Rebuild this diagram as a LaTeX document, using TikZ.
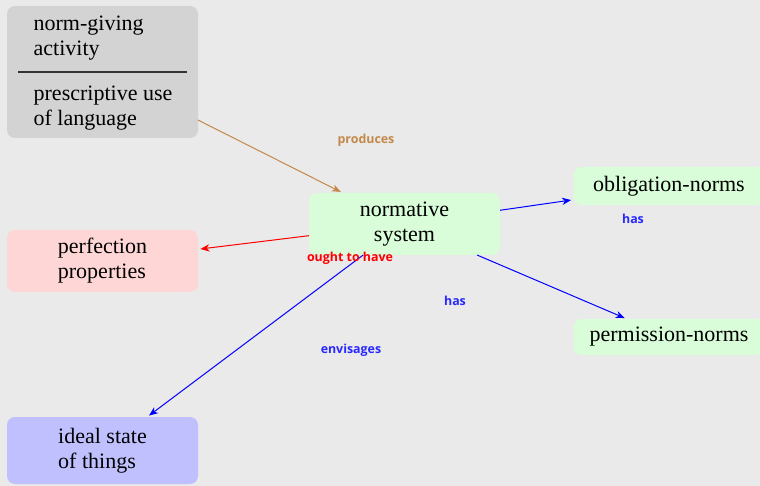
\documentclass[tikz,border=0pt]{standalone}
\usepackage{fontspec}
\setmainfont{Liberation Serif}
\newfontfamily\relfont{Open Sans}
\usetikzlibrary{arrows.meta}

\definecolor{bgcol}{RGB}{233,234,233}
\definecolor{srcgray}{RGB}{211,211,211}
\definecolor{normgreen}{RGB}{217,252,217}
\definecolor{perfpink}{RGB}{255,214,214}
\definecolor{idealblue}{RGB}{192,192,255}
\definecolor{prodbrown}{RGB}{196,136,74}
\definecolor{hasblue}{RGB}{40,40,255}

\tikzset{
  concept/.style={fill=#1, rounded corners=4pt, minimum width=95.5pt,
    align=left, inner sep=0pt, outer sep=0pt,
    font={\fontsize{11}{12.5}\selectfont}},
  rel/.style={text=#1, font={\relfont\bfseries\fontsize{6.2}{7}\selectfont}},
  link/.style={-{Stealth[length=4.5pt, width=3.6pt, inset=1.4pt]}, draw=#1,
    line width=0.5pt, shorten >=1.2pt},
}

\begin{document}
\begin{tikzpicture}[x=0.5pt, y=-0.5pt]
  \useasboundingbox (0,0) rectangle (760,486);
  \fill[bgcol] (0,0) rectangle (760,486);
  % concepts
  \node[concept=srcgray, minimum height=66pt] (src) at (102.5,72) {};
  \node[align=left, inner sep=0pt, font={\fontsize{11}{12.5}\selectfont}] (srctext)
    at (103,73.5) {norm-giving\\activity\\[10pt]prescriptive use\\of language};
  \draw[line width=0.6pt, black!80] ([xshift=5.5pt]src.west) -- ([xshift=-5.5pt]src.east);
  \node[concept=normgreen, minimum height=31pt, align=center] (sys) at (404.5,224)
    {normative\\system};
  \node[concept=perfpink, minimum height=31pt] (perf) at (102.5,261)
    {perfection\\properties};
  \node[concept=normgreen, minimum height=19pt] (obl) at (669,186) {obligation-norms};
  \node[concept=normgreen, minimum height=18pt] (perm) at (669,337) {permission-norms};
  \node[concept=idealblue, minimum height=33.5pt] (ideal) at (102.5,450.5)
    {ideal state\\of things};
  % relations
  \draw[link=prodbrown] (src) -- (sys);
  \draw[link=red] (sys) -- (perf);
  \draw[link=blue] (sys) -- (obl);
  \draw[link=blue] (sys) -- (perm);
  \draw[link=blue] (sys) -- (ideal);
  \node[rel=prodbrown] (lprod) at (366,140) {produces};
  \node[rel=red] (lought) at (350,258) {ought to have};
  \node[rel=hasblue] (lobl) at (633,219) {has};
  \node[rel=hasblue] (lperm) at (455,301) {has};
  \node[rel=hasblue] (lenv) at (351,350) {envisages};
\end{tikzpicture}
\end{document}
